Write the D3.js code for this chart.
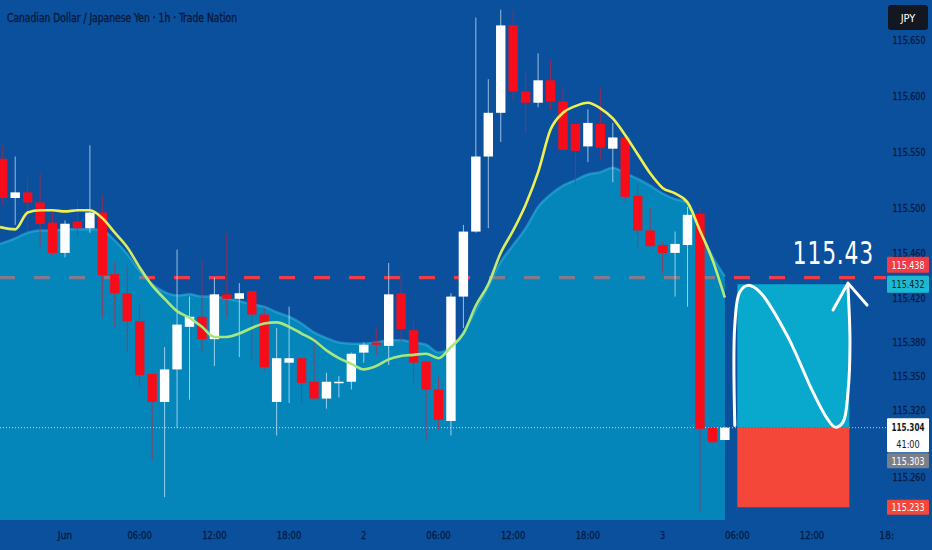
<!DOCTYPE html>
<html>
<head>
<meta charset="utf-8">
<script src="https://cdn.jsdelivr.net/npm/d3@7"></script>
<style>
  html, body { margin: 0; padding: 0; background: #0a509c; overflow: hidden; }
  svg { display: block; font-family: "Liberation Sans Narrow", "DejaVu Sans Condensed", "DejaVu Sans", sans-serif; }
</style>
</head>
<body>
<div id="chart"></div>
<script>
// Chart data.
const title = "Canadian Dollar / Japanese Yen · 1h · Trade Nation";
const firstHour = -5; // first candle, hours after 1 Jun 00:00

const opens = [
  115.544, 115.509, 115.514, 115.505, 115.487, 115.460, 115.488, 115.482, 115.496, 115.441,
  115.424, 115.399, 115.352, 115.327, 115.356, 115.394, 115.403, 115.383, 115.423, 115.419,
  115.426, 115.405, 115.327, 115.362, 115.366, 115.345, 115.330, 115.344, 115.345, 115.371,
  115.380, 115.377, 115.424, 115.391, 115.363, 115.338, 115.310, 115.421, 115.479, 115.546,
  115.585, 115.663, 115.604, 115.594, 115.614, 115.595, 115.575, 115.555, 115.575, 115.553,
  115.563, 115.511, 115.480, 115.467, 115.460, 115.467, 115.495, 115.304, 115.293,
];
const highs = [
  115.556, 115.546, 115.528, 115.531, 115.499, 115.489, 115.507, 115.556, 115.512, 115.452,
  115.449, 115.415, 115.352, 115.376, 115.463, 115.421, 115.454, 115.438, 115.478, 115.433,
  115.426, 115.411, 115.393, 115.412, 115.366, 115.384, 115.353, 115.350, 115.371, 115.380,
  115.393, 115.451, 115.442, 115.402, 115.363, 115.349, 115.424, 115.485, 115.670, 115.615,
  115.677, 115.677, 115.621, 115.638, 115.632, 115.608, 115.576, 115.588, 115.607, 115.576,
  115.565, 115.522, 115.500, 115.470, 115.479, 115.501, 115.500, 115.305, 115.305,
];
const lows = [
  115.503, 115.485, 115.480, 115.465, 115.458, 115.456, 115.474, 115.478, 115.402, 115.394,
  115.371, 115.340, 115.275, 115.242, 115.304, 115.329, 115.371, 115.359, 115.402, 115.367,
  115.364, 115.355, 115.297, 115.326, 115.326, 115.329, 115.321, 115.331, 115.338, 115.362,
  115.369, 115.360, 115.380, 115.344, 115.293, 115.302, 115.297, 115.393, 115.478, 115.482,
  115.559, 115.596, 115.567, 115.590, 115.588, 115.552, 115.521, 115.541, 115.543, 115.523,
  115.505, 115.465, 115.465, 115.442, 115.421, 115.412, 115.229, 115.291, 115.293,
];
const closes = [
  115.509, 115.514, 115.505, 115.486, 115.460, 115.486, 115.482, 115.496, 115.440, 115.424,
  115.399, 115.351, 115.327, 115.356, 115.396, 115.403, 115.383, 115.423, 115.419, 115.424,
  115.405, 115.358, 115.366, 115.366, 115.344, 115.330, 115.345, 115.345, 115.370, 115.378,
  115.378, 115.423, 115.392, 115.362, 115.338, 115.311, 115.421, 115.479, 115.546, 115.585,
  115.663, 115.604, 115.594, 115.614, 115.595, 115.552, 115.551, 115.576, 115.554, 115.563,
  115.510, 115.480, 115.466, 115.460, 115.468, 115.494, 115.303, 115.291, 115.304,
];
// Moving average line and the smoother "cloud" area under it.
const maValues = [
  115.483, 115.481, 115.496, 115.498, 115.498, 115.497, 115.498, 115.498, 115.491, 115.478,
  115.465, 115.447, 115.431, 115.419, 115.408, 115.402, 115.394, 115.385, 115.385, 115.388,
  115.393, 115.397, 115.398, 115.394, 115.388, 115.382, 115.373, 115.366, 115.361, 115.356,
  115.359, 115.365, 115.368, 115.369, 115.370, 115.366, 115.376, 115.388, 115.413, 115.432,
  115.460, 115.480, 115.503, 115.532, 115.570, 115.585, 115.591, 115.594, 115.589, 115.580,
  115.565, 115.548, 115.531, 115.518, 115.513, 115.505, 115.480, 115.454, 115.420,
];
const cloudValues = [
  115.468, 115.473, 115.478, 115.480, 115.480, 115.481, 115.481, 115.481, 115.480, 115.471,
  115.459, 115.444, 115.432, 115.425, 115.422, 115.423, 115.421, 115.421, 115.419, 115.417,
  115.414, 115.412, 115.407, 115.403, 115.397, 115.389, 115.384, 115.380, 115.379, 115.379,
  115.380, 115.382, 115.382, 115.380, 115.378, 115.371, 115.376, 115.389, 115.409, 115.430,
  115.452, 115.467, 115.482, 115.501, 115.512, 115.520, 115.525, 115.530, 115.532, 115.536,
  115.531, 115.526, 115.520, 115.513, 115.508, 115.505, 115.480, 115.457, 115.439,
];

const timeTickHours = [0, 6, 12, 18, 24, 30, 36, 42, 48, 54, 60, 66];
const timeTickLabels = ["Jun", "06:00", "12:00", "18:00", "2", "06:00", "12:00", "18:00", "3", "06:00", "12:00", "18:"];
const priceTicks = [115.65, 115.6, 115.55, 115.5, 115.46, 115.42, 115.38, 115.35, 115.32, 115.26];
const priceTickLabels = ["115.650", "115.600", "115.550", "115.500", "115.460", "115.420", "115.380", "115.350", "115.320", "115.260"];

// Drawn levels and the long-position tool.
const lineLevel = 115.438;
const lastPrice = 115.304;
const bidPrice = 115.303;
const countdown = "41:00";
const entryPrice = 115.304;
const targetPrice = 115.432;
const stopPrice = 115.233;
const positionHours = [54, 63];
const bigLabel = "115.43";

// Hand-drawn wave and arrow inside the position box (hour, price).
const waveHours = [53.8, 53.8, 54.2, 54.86, 55.82, 57.99, 60.08, 61.2, 61.85, 62.49, 62.89, 63.05, 62.89];
const wavePrices = [115.306, 115.3955, 115.425, 115.431, 115.425, 115.3866, 115.3357, 115.3125, 115.3045, 115.309, 115.3357, 115.38, 115.4295];
const arrowHours = [61.69, 62.89, 64.42];
const arrowPrices = [115.409, 115.433, 115.4134];

// Dimensions
const width = 932;
const height = 550;
const plotRight = 886;
const plotBottom = 520;

const t0 = Date.UTC(2025, 5, 1, 0);
const hourDate = (h) => new Date(t0 + h * 3600e3);

const candles = opens.map((o, i) => ({
  date: hourDate(firstHour + i),
  open: o,
  high: highs[i],
  low: lows[i],
  close: closes[i],
  ma: maValues[i],
  cloud: cloudValues[i],
}));

const x = d3
  .scaleUtc()
  .domain([hourDate(0), hourDate(48)])
  .range([65, 662.6]);

const y = d3
  .scaleLinear()
  .domain([115.26, 115.6])
  .range([477, 96]);

const bodyWidth = 9.4;

// squeeze a text only when the font renders it wider than the room it has
function fit(sel, maxW) {
  sel.each(function (d, i) {
    const w = typeof maxW === "function" ? maxW(d, i) : maxW;
    if (this.getComputedTextLength() > w) {
      d3.select(this).attr("textLength", w).attr("lengthAdjust", "spacingAndGlyphs");
    }
  });
}

const svg = d3
  .select("#chart")
  .append("svg")
  .attr("width", width)
  .attr("height", height)
  .attr("viewBox", [0, 0, width, height]);

svg.append("rect").attr("width", width).attr("height", height).attr("fill", "#0a509c");

const defs = svg.append("defs");
defs
  .append("clipPath")
  .attr("id", "plot-clip")
  .append("rect")
  .attr("x", 0)
  .attr("y", 0)
  .attr("width", plotRight)
  .attr("height", plotBottom);

const maGrad = defs
  .append("linearGradient")
  .attr("id", "ma-grad")
  .attr("gradientUnits", "userSpaceOnUse")
  .attr("x1", 0)
  .attr("x2", 0)
  .attr("y1", y(115.5))
  .attr("y2", y(115.41));
maGrad.append("stop").attr("offset", 0).attr("stop-color", "#f2f04e");
maGrad.append("stop").attr("offset", 1).attr("stop-color", "#a6e87e");

const plot = svg.append("g").attr("clip-path", "url(#plot-clip)");

// Red dashed horizontal level (sits under the translucent cloud).
plot
  .append("line")
  .attr("x1", -1)
  .attr("x2", plotRight)
  .attr("y1", y(lineLevel))
  .attr("y2", y(lineLevel))
  .attr("stroke", "#f03c48")
  .attr("stroke-width", 3.2)
  .attr("stroke-dasharray", "16,19");

// Cloud area
const xAt = (d, i) => (i === 0 ? 0 : x(d.date));
const area = d3
  .area()
  .x(xAt)
  .y0(plotBottom)
  .y1((d) => y(d.cloud))
  .curve(d3.curveMonotoneX);

plot
  .append("path")
  .datum(candles)
  .attr("d", area)
  .attr("fill", "#00c6e0")
  .attr("fill-opacity", 0.46);

plot
  .append("path")
  .datum(candles)
  .attr("d", area.lineY1())
  .attr("fill", "none")
  .attr("stroke", "#36b8e6")
  .attr("stroke-opacity", 0.5)
  .attr("stroke-width", 2.5);

// Last price dotted line
plot
  .append("line")
  .attr("x1", 0)
  .attr("x2", plotRight)
  .attr("y1", y(lastPrice))
  .attr("y2", y(lastPrice))
  .attr("stroke", "#ffffff")
  .attr("stroke-opacity", 0.75)
  .attr("stroke-width", 1)
  .attr("stroke-dasharray", "1,2");

// Candles
const up = (d) => d.close >= d.open;
const candle = plot
  .append("g")
  .selectAll("g")
  .data(candles)
  .join("g")
  .attr("transform", (d) => `translate(${x(d.date)},0)`);

candle
  .append("line")
  .attr("y1", (d) => y(d.high))
  .attr("y2", (d) => y(d.low))
  .attr("stroke", (d) => (up(d) ? "#d8ecff" : "#c8203a"))
  .attr("stroke-opacity", 0.7)
  .attr("stroke-width", 1);

candle
  .append("rect")
  .attr("x", -bodyWidth / 2)
  .attr("width", bodyWidth)
  .attr("y", (d) => y(Math.max(d.open, d.close)))
  .attr("height", (d) => Math.max(1.5, Math.abs(y(d.open) - y(d.close))))
  .attr("fill", (d) => (up(d) ? "#ffffff" : "#f70d1a"));

// Moving average line
plot
  .append("path")
  .datum(candles)
  .attr("fill", "none")
  .attr("stroke", "url(#ma-grad)")
  .attr("stroke-width", 2.6)
  .attr(
    "d",
    d3
      .line()
      .x(xAt)
      .y((d) => y(d.ma))
      .curve(d3.curveMonotoneX),
  );

// Long position tool
const px0 = x(hourDate(positionHours[0]));
const px1 = x(hourDate(positionHours[1]));
plot
  .append("rect")
  .attr("x", px0)
  .attr("width", px1 - px0)
  .attr("y", y(targetPrice))
  .attr("height", y(entryPrice) - y(targetPrice))
  .attr("fill", "#08a9cc");
plot
  .append("rect")
  .attr("x", px0)
  .attr("width", px1 - px0)
  .attr("y", y(entryPrice))
  .attr("height", y(stopPrice) - y(entryPrice))
  .attr("fill", "#f4473a");

const waveLine = d3
  .line()
  .x((d) => x(hourDate(d[0])))
  .y((d) => y(d[1]));

plot
  .append("path")
  .attr("d", waveLine.curve(d3.curveCatmullRom)(waveHours.map((h, i) => [h, wavePrices[i]])))
  .attr("fill", "none")
  .attr("stroke", "#ffffff")
  .attr("stroke-width", 3)
  .attr("stroke-linecap", "round");

svg
  .append("path")
  .attr("d", waveLine.curve(d3.curveLinear)(arrowHours.map((h, i) => [h, arrowPrices[i]])))
  .attr("fill", "none")
  .attr("stroke", "#ffffff")
  .attr("stroke-width", 3)
  .attr("stroke-linecap", "round")
  .attr("stroke-linejoin", "round");

// Big level text
svg
  .append("text")
  .attr("x", (px0 + px1) / 2 + 40)
  .attr("y", y(lineLevel) - 14)
  .attr("text-anchor", "middle")
  .attr("font-size", 32)
  .attr("letter-spacing", 1)
  .attr("fill", "#ffffff")
  .text(bigLabel)
  .call(fit, 81);

// Title (a hairline stroke gives it the heavier look of the original)
svg
  .append("text")
  .attr("x", 7)
  .attr("y", 22)
  .attr("font-size", 12)
  .attr("fill", "#081a3c")
  .attr("stroke", "#081a3c")
  .attr("stroke-width", 0.35)
  .text(title)
  .call(fit, 230);

// Time axis
const axisColor = "#061c44";
svg
  .append("g")
  .selectAll("text")
  .data(timeTickHours)
  .join("text")
  .attr("x", (h) => x(hourDate(h)))
  .attr("y", 539)
  .attr("text-anchor", "middle")
  .attr("font-size", 11)
  .attr("fill", axisColor)
  .attr("stroke", axisColor)
  .attr("stroke-width", 0.3)
  .text((h, i) => timeTickLabels[i])
  .call(fit, (h, i) => timeTickLabels[i].length * 4.9);

// Price axis
svg
  .append("g")
  .selectAll("text")
  .data(priceTicks)
  .join("text")
  .attr("x", 909)
  .attr("y", (v) => y(v))
  .attr("dy", "0.35em")
  .attr("text-anchor", "middle")
  .attr("font-size", 11)
  .attr("fill", axisColor)
  .attr("stroke", axisColor)
  .attr("stroke-width", 0.3)
  .text((v, i) => priceTickLabels[i])
  .call(fit, 33);

// Price label boxes, pushed apart where they would overlap.
const boxes = [
  { value: lastPrice, lines: [lastPrice.toFixed(3), countdown], fill: "#ffffff", color: "#131722", h: 34, top: 9.5, fixed: true },
  { value: targetPrice, lines: [targetPrice.toFixed(3)], fill: "#1cb9d3", color: "#0f1c2e", h: 17, fixed: true },
  { value: lineLevel, lines: [lineLevel.toFixed(3)], fill: "#f23b45", color: "#ffffff", h: 16 },
  { value: bidPrice, lines: [bidPrice.toFixed(3)], fill: "#7b7f8a", color: "#ffffff", h: 15 },
  { value: stopPrice, lines: [stopPrice.toFixed(3)], fill: "#f4473a", color: "#ffffff", h: 15 },
];
boxes.forEach((b) => (b.y0 = y(b.value) - (b.top !== undefined ? b.top : b.h / 2)));
boxes.forEach((b) => {
  if (b.fixed) return;
  boxes.forEach((o) => {
    if (o === b || !o.fixed) return;
    const overlap = b.y0 < o.y0 + o.h + 2 && b.y0 + b.h + 2 > o.y0;
    if (!overlap) return;
    if (b.value >= o.value) b.y0 = o.y0 - b.h - 3;
    else b.y0 = o.y0 + o.h + 1;
  });
});

const box = svg
  .append("g")
  .selectAll("g")
  .data(boxes)
  .join("g")
  .attr("transform", (d) => `translate(887,${d.y0})`);
box
  .append("rect")
  .attr("width", 42)
  .attr("height", (d) => d.h)
  .attr("rx", 1)
  .attr("fill", (d) => d.fill);
box.each(function (d) {
  d3.select(this)
    .selectAll("text")
    .data(d.lines)
    .join("text")
    .attr("x", 21)
    .attr("y", (t, i) => (d.lines.length > 1 ? 9.5 + i * 16 : d.h / 2))
    .attr("dy", "0.36em")
    .attr("text-anchor", "middle")
    .attr("font-size", (t, i) => (d.lines.length > 1 && i === 0 ? 10.5 : 11))
    .attr("font-weight", (t, i) => (d.lines.length > 1 && i === 0 ? "bold" : "normal"))
    .attr("fill", d.color)
    .text((t) => t)
    .call(fit, (t) => t.length * 4.7);
});

// Currency badge
svg
  .append("rect")
  .attr("x", 888)
  .attr("y", 5)
  .attr("width", 40)
  .attr("height", 25)
  .attr("rx", 3)
  .attr("fill", "#131722");
svg
  .append("text")
  .attr("x", 908)
  .attr("y", 18)
  .attr("dy", "0.36em")
  .attr("text-anchor", "middle")
  .attr("font-size", 11)
  .attr("fill", "#ffffff")
  .text("JPY");
</script>
</body>
</html>
